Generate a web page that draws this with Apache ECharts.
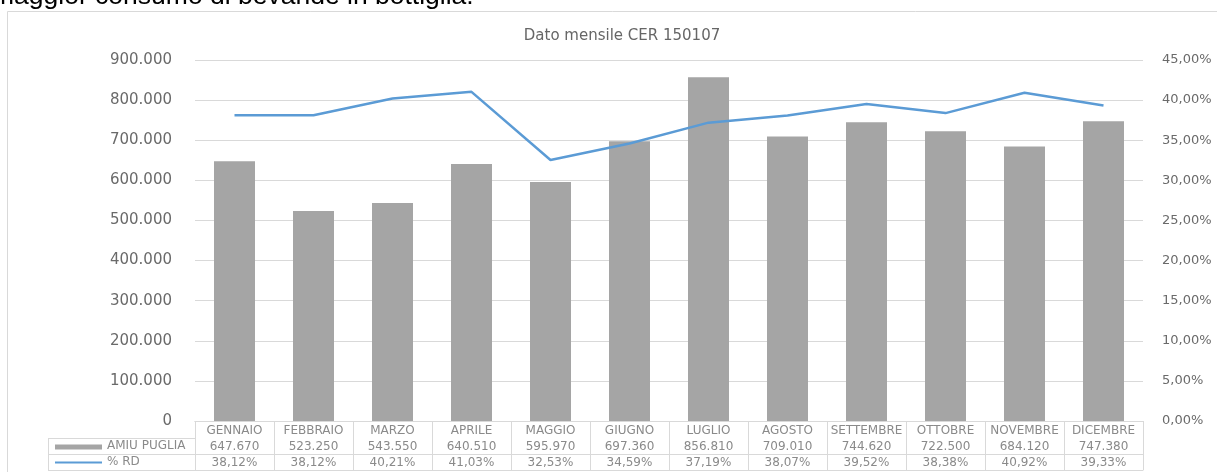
<!DOCTYPE html>
<html>
<head>
<meta charset="utf-8">
<script src="https://cdn.jsdelivr.net/npm/echarts@6/dist/echarts.min.js"></script>
<style>
  html, body { margin: 0; padding: 0; background: #fff; }
  #chart { width: 1217px; height: 472px; }
</style>
</head>
<body>
<div id="chart"></div>
<script>
// dati mensili
var months = ['GENNAIO', 'FEBBRAIO', 'MARZO', 'APRILE', 'MAGGIO', 'GIUGNO', 'LUGLIO', 'AGOSTO', 'SETTEMBRE', 'OTTOBRE', 'NOVEMBRE', 'DICEMBRE'];
var amiuValues = [647670, 523250, 543550, 640510, 595970, 697360, 856810, 709010, 744620, 722500, 684120, 747380];
var rdPercent = [38.12, 38.12, 40.21, 41.03, 32.53, 34.59, 37.19, 38.07, 39.52, 38.38, 40.92, 39.33];
var seriesNames = ['AMIU PUGLIA', '% RD'];

var FONT = 'DejaVu Sans';
var gridCol = '#d9d9d9';
var txtCol = '#6a6a6a';
var tabCol = '#8a8a8a';

function fmtThousands(v) {
    return String(v).replace(/\B(?=(\d{3})+(?!\d))/g, '.');
}
function fmtPct(v) {
    return v.toFixed(2).replace('.', ',') + '%';
}

// righe della tabella sotto il grafico
function tableAxis(offset, formatter, showLabel) {
    return {
        type: 'category',
        gridIndex: 0,
        position: 'bottom',
        offset: offset,
        data: months,
        axisLine: { show: true, lineStyle: { color: gridCol, width: 1 } },
        axisTick: { show: false },
        axisLabel: {
            show: showLabel,
            interval: 0,
            margin: 3,
            fontFamily: FONT,
            fontSize: 12,
            color: tabCol,
            formatter: formatter
        },
        splitLine: { show: false }
    };
}

var chart = echarts.init(document.getElementById('chart'));

var option = {
    animation: false,
    title: {
        text: 'Dato mensile CER 150107',
        left: 617,
        textAlign: 'center',
        top: 24,
        textStyle: { fontFamily: FONT, fontSize: 15, fontWeight: 'normal', color: '#666' }
    },
    grid: { left: 195, right: 74, top: 60, bottom: 51, outerBoundsMode: 'none' },
    xAxis: [
        {
            type: 'category',
            data: months,
            position: 'bottom',
            axisLine: { show: true, lineStyle: { color: gridCol, width: 1 } },
            axisTick: { show: true, interval: 0, length: 49, lineStyle: { color: gridCol } },
            axisLabel: { interval: 0, margin: 4, fontFamily: FONT, fontSize: 12, color: tabCol },
            splitLine: { show: false }
        },
        tableAxis(17, function (v, i) { return fmtThousands(amiuValues[i]); }, true),
        tableAxis(33, function (v, i) { return fmtPct(rdPercent[i]); }, true),
        tableAxis(49, null, false)
    ],
    yAxis: [
        {
            type: 'value',
            min: 0,
            max: 900000,
            interval: 100000,
            axisLine: { show: false },
            axisTick: { show: false },
            axisLabel: {
                margin: 23,
                fontFamily: FONT,
                fontSize: 15,
                color: txtCol,
                formatter: fmtThousands
            },
            splitLine: { lineStyle: { color: gridCol, width: 1 } }
        },
        {
            type: 'value',
            min: 0,
            max: 45,
            interval: 5,
            position: 'right',
            axisLine: { show: false },
            axisTick: { show: false },
            axisLabel: {
                margin: 19,
                fontFamily: FONT,
                fontSize: 13,
                color: txtCol,
                formatter: fmtPct
            },
            splitLine: { show: false }
        }
    ],
    series: [
        {
            name: seriesNames[0],
            type: 'bar',
            xAxisIndex: 0,
            yAxisIndex: 0,
            data: amiuValues,
            barWidth: 41,
            itemStyle: { color: '#a5a5a5' }
        },
        {
            name: seriesNames[1],
            type: 'line',
            xAxisIndex: 0,
            yAxisIndex: 1,
            data: rdPercent,
            showSymbol: false,
            symbol: 'none',
            lineStyle: { color: '#5b9bd5', width: 2.5 }
        }
    ],
    graphic: [
        // testo del documento tagliato in alto
        {
            type: 'text',
            left: -8,
            top: -17,
            style: { text: 'maggior consumo di bevande in bottiglia.', fontFamily: 'Liberation Sans', fontSize: 26.5, fill: '#000' }
        },
        // cornice del grafico
        {
            type: 'rect',
            shape: { x: 7.5, y: 11.5, width: 1230, height: 480 },
            style: { fill: 'none', stroke: gridCol, lineWidth: 1 }
        },
        // celle a sinistra della tabella
        { type: 'line', shape: { x1: 48, y1: 438.5, x2: 195, y2: 438.5 }, style: { stroke: gridCol } },
        { type: 'line', shape: { x1: 48, y1: 454.5, x2: 195, y2: 454.5 }, style: { stroke: gridCol } },
        { type: 'line', shape: { x1: 48, y1: 470.5, x2: 195, y2: 470.5 }, style: { stroke: gridCol } },
        { type: 'line', shape: { x1: 48.5, y1: 438.5, x2: 48.5, y2: 470.5 }, style: { stroke: gridCol } },
        { type: 'rect', shape: { x: 55, y: 444.5, width: 47, height: 5 }, style: { fill: '#a5a5a5' } },
        { type: 'line', shape: { x1: 55, y1: 462.5, x2: 102, y2: 462.5 }, style: { stroke: '#5b9bd5', lineWidth: 2 } },
        {
            type: 'text', left: 107, top: 440,
            style: { text: seriesNames[0], fontFamily: FONT, fontSize: 12, fill: tabCol }
        },
        {
            type: 'text', left: 107, top: 456,
            style: { text: seriesNames[1], fontFamily: FONT, fontSize: 12, fill: tabCol }
        }
    ]
};

chart.setOption(option);
</script>
</body>
</html>
